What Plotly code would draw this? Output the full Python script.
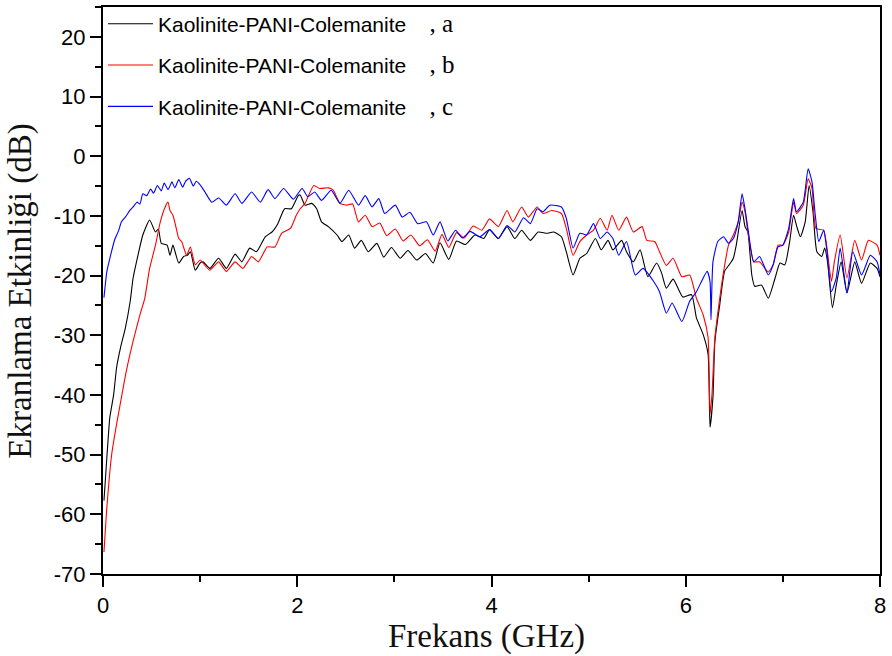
import plotly.graph_objects as go

# ---------------- data ----------------
freq_a = [0.01, 0.04, 0.07, 0.11, 0.14, 0.18, 0.23, 0.28, 0.31, 0.36, 0.41, 0.48, 0.54, 0.57, 0.60, 0.66,
          0.69, 0.72, 0.78, 0.83, 0.87, 0.90, 0.95, 1.00, 1.03, 1.10, 1.19, 1.27, 1.36, 1.43, 1.51, 1.58,
          1.67, 1.74, 1.80, 1.87, 1.94, 2.01, 2.03, 2.08, 2.15, 2.20, 2.25, 2.32, 2.41, 2.46, 2.53, 2.59,
          2.66, 2.73, 2.82, 2.89, 2.97, 3.06, 3.14, 3.23, 3.32, 3.40, 3.47, 3.56, 3.64, 3.73, 3.83, 3.92,
          3.98, 4.07, 4.16, 4.24, 4.31, 4.40, 4.48, 4.57, 4.64, 4.72, 4.77, 4.84, 4.91, 4.98, 5.07, 5.13,
          5.20, 5.25, 5.34, 5.39, 5.46, 5.53, 5.61, 5.70, 5.75, 5.80, 5.87, 5.97, 6.06, 6.11, 6.18, 6.23,
          6.25, 6.28, 6.30, 6.35, 6.40, 6.46, 6.49, 6.52, 6.58, 6.61, 6.64, 6.68, 6.71, 6.78, 6.85, 6.92,
          6.97, 7.02, 7.07, 7.11, 7.14, 7.18, 7.23, 7.27, 7.31, 7.35, 7.40, 7.43, 7.46, 7.51, 7.55, 7.60,
          7.66, 7.74, 7.81, 7.90, 7.97, 8.00]
se_a = [-57.7, -50.4, -43.8, -39.9, -35.4, -32.1, -28.8, -24.3, -20.4, -16.6, -13.2, -10.7, -12.7, -12.2, -14.6, -14.9,
        -16.6, -14.9, -17.9, -16.8, -16.6, -16.0, -19.1, -17.9, -17.7, -18.8, -17.1, -18.8, -16.4, -17.7, -15.4, -16.0,
        -13.5, -12.7, -11.3, -8.8, -8.8, -6.6, -6.5, -8.2, -7.9, -8.8, -11.0, -11.8, -13.2, -14.3, -13.2, -15.4,
        -14.1, -16.0, -14.6, -16.9, -15.3, -17.1, -15.8, -17.4, -16.3, -17.9, -14.5, -17.3, -14.2, -14.8, -13.2, -13.8,
        -12.3, -13.8, -11.8, -13.8, -12.4, -14.1, -12.7, -12.9, -12.7, -13.5, -16.0, -19.9, -17.1, -16.3, -13.8, -15.7,
        -14.1, -15.7, -14.1, -16.0, -17.7, -15.7, -20.2, -17.9, -19.5, -22.1, -20.6, -23.6, -23.2, -27.1, -29.9, -33.2,
        -45.4, -40.4, -31.0, -24.9, -19.3, -17.9, -17.1, -14.9, -9.1, -11.8, -12.7, -19.9, -21.8, -21.6, -23.8, -20.4,
        -17.9, -18.2, -14.3, -9.9, -11.6, -13.5, -11.0, -4.9, -9.3, -16.0, -16.8, -15.4, -17.7, -25.4, -21.6, -17.7,
        -22.9, -17.7, -21.3, -17.9, -18.8, -20.2]

freq_b = [0.01, 0.04, 0.09, 0.14, 0.19, 0.24, 0.31, 0.38, 0.43, 0.48, 0.54, 0.59, 0.64, 0.67, 0.69, 0.72,
          0.76, 0.78, 0.81, 0.86, 0.90, 0.95, 1.00, 1.06, 1.10, 1.19, 1.27, 1.36, 1.44, 1.53, 1.60, 1.69,
          1.77, 1.84, 1.93, 1.99, 2.03, 2.08, 2.17, 2.23, 2.32, 2.37, 2.44, 2.51, 2.57, 2.63, 2.70, 2.77,
          2.85, 2.92, 3.01, 3.09, 3.17, 3.26, 3.34, 3.42, 3.49, 3.56, 3.64, 3.72, 3.81, 3.90, 3.98, 4.07,
          4.16, 4.22, 4.31, 4.38, 4.47, 4.53, 4.62, 4.72, 4.77, 4.84, 4.91, 4.98, 5.05, 5.12, 5.19, 5.24,
          5.31, 5.39, 5.46, 5.55, 5.60, 5.68, 5.73, 5.80, 5.87, 5.96, 6.04, 6.11, 6.18, 6.23, 6.25, 6.27,
          6.30, 6.35, 6.39, 6.44, 6.49, 6.54, 6.58, 6.61, 6.64, 6.70, 6.76, 6.85, 6.90, 6.95, 7.00, 7.06,
          7.11, 7.14, 7.21, 7.26, 7.30, 7.34, 7.42, 7.45, 7.50, 7.53, 7.59, 7.66, 7.74, 7.81, 7.88, 7.97,
          8.00]
se_b = [-66.3, -58.8, -49.9, -44.9, -40.4, -36.0, -31.0, -26.6, -23.8, -18.8, -14.9, -11.0, -8.5, -7.7, -9.1, -9.9,
        -12.5, -13.8, -14.3, -16.6, -15.2, -18.2, -17.4, -18.5, -19.1, -17.7, -19.3, -17.7, -18.8, -16.8, -17.7, -15.2,
        -15.2, -12.9, -12.1, -9.9, -8.8, -7.9, -4.9, -5.4, -5.3, -5.7, -7.9, -8.2, -8.0, -11.0, -9.9, -11.8,
        -11.2, -13.3, -12.2, -14.2, -13.2, -15.0, -14.0, -15.9, -13.1, -15.3, -12.8, -13.7, -11.7, -12.4, -10.5, -11.8,
        -9.1, -11.0, -8.5, -10.2, -8.5, -9.6, -9.1, -9.6, -12.1, -16.6, -14.3, -13.2, -12.4, -10.4, -12.4, -9.9,
        -12.4, -10.2, -12.7, -11.8, -14.1, -14.3, -16.0, -18.3, -17.1, -20.2, -19.9, -23.8, -26.6, -30.4, -43.2, -39.9,
        -30.4, -23.8, -19.3, -14.9, -13.2, -11.0, -7.7, -9.3, -12.7, -17.7, -17.7, -19.4, -18.2, -14.9, -14.9, -12.7,
        -7.7, -9.6, -8.2, -3.8, -5.4, -12.1, -12.4, -14.9, -21.0, -17.7, -13.2, -20.4, -14.1, -17.4, -14.1, -14.9,
        -16.6]

freq_c = [0.01, 0.04, 0.08, 0.12, 0.16, 0.19, 0.23, 0.28, 0.31, 0.35, 0.38, 0.41, 0.45, 0.49, 0.52, 0.56,
          0.60, 0.63, 0.67, 0.71, 0.74, 0.78, 0.82, 0.85, 0.89, 0.93, 0.96, 1.00, 1.05, 1.12, 1.19, 1.27,
          1.36, 1.43, 1.53, 1.62, 1.70, 1.77, 1.86, 1.96, 2.05, 2.11, 2.18, 2.25, 2.35, 2.44, 2.53, 2.63,
          2.70, 2.77, 2.84, 2.90, 3.01, 3.08, 3.16, 3.24, 3.33, 3.40, 3.47, 3.55, 3.63, 3.70, 3.78, 3.88,
          3.98, 4.07, 4.16, 4.24, 4.33, 4.40, 4.47, 4.53, 4.60, 4.72, 4.77, 4.84, 4.91, 4.98, 5.05, 5.12,
          5.19, 5.25, 5.31, 5.39, 5.48, 5.56, 5.67, 5.73, 5.80, 5.86, 5.96, 6.04, 6.11, 6.22, 6.25, 6.26,
          6.28, 6.33, 6.39, 6.44, 6.49, 6.54, 6.58, 6.61, 6.64, 6.70, 6.76, 6.85, 6.90, 6.95, 7.00, 7.06,
          7.11, 7.14, 7.21, 7.26, 7.30, 7.33, 7.37, 7.42, 7.45, 7.50, 7.55, 7.59, 7.66, 7.72, 7.81, 7.90,
          7.97, 8.00]
se_c = [-23.7, -19.3, -16.5, -14.0, -12.5, -11.0, -10.2, -9.0, -8.5, -7.7, -8.0, -6.3, -6.6, -5.5, -6.2, -4.9,
        -5.8, -4.5, -5.6, -4.3, -5.3, -3.9, -5.2, -4.2, -3.7, -5.0, -4.2, -4.8, -6.0, -7.7, -7.0, -8.2,
        -6.3, -7.9, -6.0, -7.7, -5.6, -7.1, -5.4, -7.2, -5.4, -6.8, -6.0, -7.4, -5.7, -7.9, -5.7, -8.2,
        -6.6, -8.5, -7.1, -9.6, -8.2, -10.2, -9.4, -11.3, -11.0, -13.2, -11.0, -14.2, -12.4, -13.7, -12.6, -13.5,
        -12.3, -13.8, -11.6, -12.7, -10.3, -11.3, -8.8, -9.3, -8.2, -8.5, -10.4, -15.4, -12.9, -13.2, -11.3, -13.8,
        -12.7, -13.8, -16.6, -14.3, -19.9, -18.8, -21.0, -22.7, -26.3, -24.6, -27.7, -24.3, -22.7, -19.3, -21.0, -27.4,
        -17.7, -14.3, -13.5, -14.6, -13.8, -11.0, -6.3, -8.8, -12.1, -17.7, -16.8, -19.9, -18.2, -15.2, -14.9, -12.1,
        -7.1, -9.3, -7.7, -2.1, -4.3, -9.3, -14.3, -12.4, -15.4, -22.7, -20.4, -15.4, -22.9, -16.0, -19.9, -16.6,
        -17.7, -19.9]

sample_name = "Kaolinite-PANI-Colemanite"
suffixes = ["a", "b", "c"]
colors = ["#000000", "#ff0000", "#0000ff"]

x_ticks = [0, 2, 4, 6, 8]
y_ticks = [-70, -60, -50, -40, -30, -20, -10, 0, 10, 20]

x_title = "Frekans (GHz)"
y_title = "Ekranlama Etkinliği (dB)"

# ---------------- figure ----------------
fig = go.Figure()
series = [(freq_a, se_a), (freq_b, se_b), (freq_c, se_c)]
for (fx, fy), suf, col in zip(series, suffixes, colors):
    name = (sample_name + "\u00a0\u00a0\u00a0\u00a0"
            + "<span style='font-family:\"Liberation Serif\", \"Times New Roman\", serif;font-size:25px'>, "
            + suf + "</span>")
    fig.add_trace(go.Scatter(
        x=fx, y=fy, mode="lines", name=name, legendgroup=suf,
        line=dict(color=col, width=1.1, shape="spline", smoothing=0.5),
    ))

axis_common = dict(
    showline=True, linecolor="black", linewidth=2, mirror=True,
    ticks="outside", ticklen=11, tickwidth=2, tickcolor="black",
    showgrid=False, zeroline=False, automargin=False,
    tickfont=dict(family="Liberation Sans, Arial, sans-serif", size=22, color="black"),
)

serif = "Liberation Serif, Times New Roman, serif"

fig.update_layout(
    width=892, height=656,
    margin=dict(l=103, r=12, t=4, b=82),
    paper_bgcolor="white", plot_bgcolor="white",
    xaxis=dict(range=[0, 8], tickvals=x_ticks, ticktext=[str(v) for v in x_ticks],
               minor=dict(dtick=1, ticks="outside", ticklen=6, tickwidth=2, tickcolor="black"),
               **axis_common),
    yaxis=dict(range=[-70, 25], tickvals=y_ticks, ticktext=[str(v) for v in y_ticks],
               minor=dict(dtick=5, tick0=0, ticks="outside", ticklen=6, tickwidth=2, tickcolor="black"),
               **axis_common),
    legend=dict(x=0.0, y=1.006, xanchor="left", yanchor="top",
                bgcolor="rgba(255,255,255,0)", borderwidth=0,
                font=dict(family="Liberation Sans, Arial, sans-serif", size=21, color="black"),
                tracegroupgap=11, itemwidth=45, traceorder="grouped"),
    showlegend=True,
    annotations=[
        dict(text=x_title, xref="paper", yref="paper", x=0.494, y=0, xanchor="center", yanchor="middle",
             yshift=-62, showarrow=False, font=dict(family=serif, size=33, color="#111")),
        dict(text=y_title, xref="paper", yref="paper", x=0, y=0.498, xanchor="center", yanchor="middle",
             xshift=-82, textangle=-90, showarrow=False, font=dict(family=serif, size=33, color="#111")),
    ],
)

fig.write_html("out.html", post_script="document.body.style.margin='0';",
               config={"displayModeBar": False})
